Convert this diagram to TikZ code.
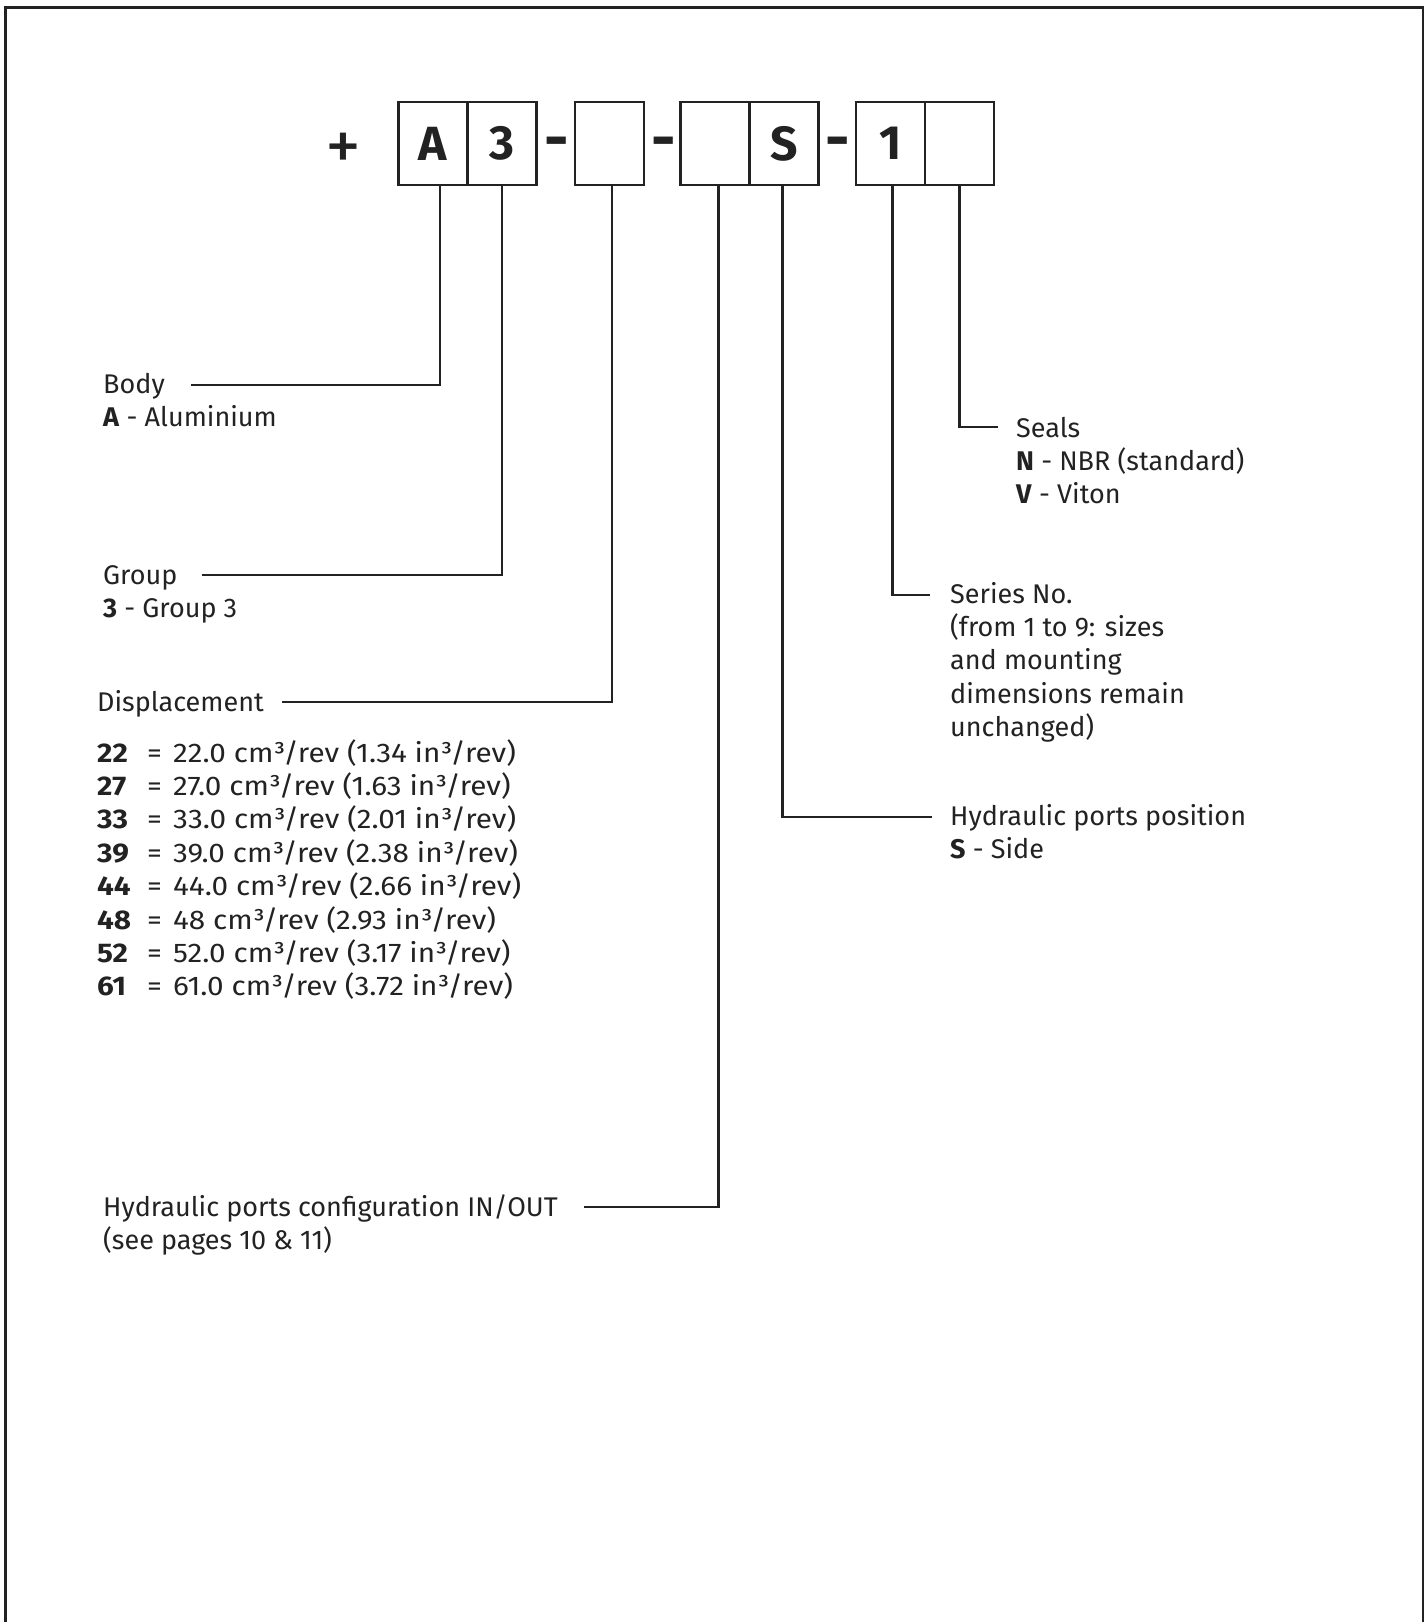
\documentclass[tikz,border=0pt]{standalone}
\usepackage{fontspec}
\setmainfont{Fira Sans}[BoldFont={Fira Sans Bold}]
\newfontfamily\ratefont{Fira Sans}[BoldFont={Fira Sans Bold}, FakeStretch=1.1]
\newfontfamily\codefont{Fira Sans Bold}
\usetikzlibrary{positioning}

\definecolor{ink}{HTML}{222222}
\newcommand{\lblfont}{\fontsize{27}{33.4}\selectfont}
\newcommand{\codesize}{\codefont\fontsize{48}{48}\selectfont}
\newcommand{\rate}[3]{\makebox[50pt][l]{\textbf{#1}}\makebox[26pt][l]{=}#2 cm³/rev (#3 in³/rev)}

\tikzset{
	codebox/.style={draw=ink, line width=2.5pt, minimum width=69pt, minimum height=83pt,
		inner sep=0pt, outer sep=0pt, font=\codesize, text=ink},
	codesign/.style={anchor=base, inner sep=0pt, font=\codefont\fontsize{60}{60}\selectfont, text=ink},
	lbl/.style={anchor=base west, inner sep=0pt, align=left, font=\lblfont, text=ink},
	leader/.style={draw=ink, line width=2.5pt},
}

\begin{document}
\begin{tikzpicture}[x=1pt, y=-1pt]
	\useasboundingbox (0,0) rectangle (1427,1622);
	
	% frame, open at the bottom
	\draw[ink, line width=2.6pt] (5.3,1622) -- (5.3,7.2) -- (1422.8,7.2) -- (1422.8,1622);
	
	% the code
	\node[codesign, font=\fontsize{72}{72}\selectfont] (plus) at (343,170) {+};
	\node[codebox] (bA) at (433,143.5) {A};
	\node[codebox, right=0pt of bA] (b3) {3};
	\node[codesign] (d1) at (557,159) {-};
	\node[codebox] (bD) at (609.5,143.5) {};
	\node[codesign] (d2) at (664,159) {-};
	\node[codebox] (bP) at (715,143.5) {};
	\node[codebox, right=0pt of bP] (bS) {S};
	\node[codesign] (d3) at (838,159) {-};
	\node[codebox] (b1) at (890.5,143.5) {1};
	\node[codebox, right=0pt of b1] (bN) {};
	
	% left labels (anchored on the last line)
	\node[lbl] (body) at (103,426.4) {Body\\\textbf{A} - Aluminium};
	\node[lbl] (group) at (103,617.4) {Group\\\textbf{3} - Group 3};
	\node[lbl] (displ) at (97,711) {Displacement};
	\node[lbl, font=\ratefont\lblfont] (rates) at (97,995.8) {\rate{22}{22.0}{1.34}\\
		\rate{27}{27.0}{1.63}\\
		\rate{33}{33.0}{2.01}\\
		\rate{39}{39.0}{2.38}\\
		\rate{44}{44.0}{2.66}\\
		\rate{48}{48}{2.93}\\
		\rate{52}{52.0}{3.17}\\
		\rate{61}{61.0}{3.72}};
	\node[lbl] (ports) at (103,1249.4) {Hydraulic ports configuration IN/OUT\\(see pages 10 \& 11)};
	
	% right labels
	\node[lbl] (seals) at (1016,503.8) {Seals\\\textbf{N} - NBR (standard)\\\textbf{V} - Viton};
	\node[lbl] (series) at (950,736.6) {Series No.\\(from 1 to 9: sizes\\and mounting\\dimensions remain\\unchanged)};
	\node[lbl] (portpos) at (950,858.4) {Hydraulic ports position\\\textbf{S} - Side};
	
	% leader ends
	\coordinate (bodyL) at (191,385);
	\coordinate (groupL) at (202,575);
	\coordinate (displL) at (282,702);
	\coordinate (portsL) at (584,1207);
	\coordinate (portposL) at (932,817);
	\coordinate (seriesL) at (930,595);
	\coordinate (sealsL) at (998,427);
	
	\draw[leader] ([xshift=7pt]bA.south) |- (bodyL);
	\draw[leader] (b3.south) |- (groupL);
	\draw[leader] ([xshift=2.5pt]bD.south) |- (displL);
	\draw[leader] ([xshift=3.5pt]bP.south) |- (portsL);
	\draw[leader] ([xshift=-1.5pt]bS.south) |- (portposL);
	\draw[leader] ([xshift=2pt]b1.south) |- (seriesL);
	\draw[leader] (bN.south) |- (sealsL);
\end{tikzpicture}
\end{document}
